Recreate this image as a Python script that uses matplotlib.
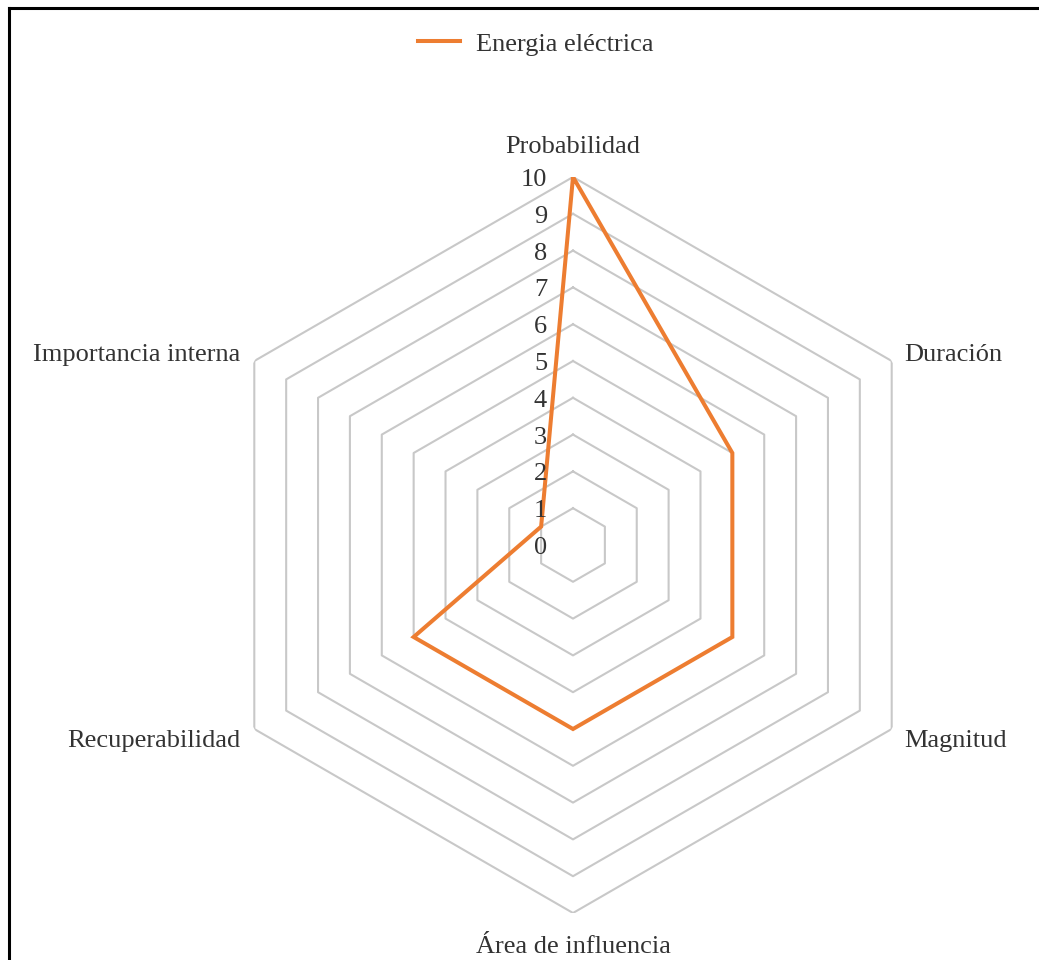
import numpy as np
import matplotlib.pyplot as plt
from matplotlib.lines import Line2D

# chart data
categories = ["Probabilidad", "Duración", "Magnitud",
              "Área de influencia", "Recuperabilidad", "Importancia interna"]
values = [10, 5, 5, 5, 5, 1]
levels = list(range(0, 11))
series_name = "Energia eléctrica"

orange = "#ED7D31"
grid_gray = "#c8c8c8"
text_col = "#333333"

plt.rcParams["font.family"] = ["Liberation Serif", "DejaVu Serif"]
plt.rcParams["font.size"] = 19

W, H = 1039, 960
fig = plt.figure(figsize=(W / 100, H / 100), dpi=100)

# polar axes centred at pixel (573, 545) with radius 368 px
cx, cy, rad = 573, 545, 368
ax = fig.add_axes([(cx - rad) / W, (H - cy - rad) / H, 2 * rad / W, 2 * rad / H],
                  projection="polar")
ax.set_theta_offset(np.pi / 2)
ax.set_theta_direction(-1)
ax.set_ylim(0, levels[-1])
ax.set_xticks([])
ax.set_yticks([])
ax.grid(False)
ax.spines["polar"].set_visible(False)
ax.patch.set_alpha(0)

n = len(categories)
angles = np.linspace(0, 2 * np.pi, n, endpoint=False)
closed = np.append(angles, angles[0])

# hexagonal grid rings
for k in levels[1:]:
    ax.plot(closed, [k] * (n + 1), color=grid_gray, lw=1.5, zorder=1)

# series
ax.plot(closed, values + values[:1], color=orange, lw=2.9, zorder=3,
        label=series_name, solid_joinstyle="miter")

# radial value labels along the top axis
for k in levels:
    ax.annotate(str(k), xy=(0, k), xytext=(-26, -3), textcoords="offset pixels",
                ha="right", va="center", color=text_col, annotation_clip=False)

# category labels
offsets = [(0, 30), (13, 6), (13, -12), (0, -34), (-14, -12), (-14, 6)]
aligns = ["center", "left", "left", "center", "right", "right"]
for a, lab, off, ha in zip(angles, categories, offsets, aligns):
    ax.annotate(lab, xy=(a, levels[-1]), xytext=off, textcoords="offset pixels",
                ha=ha, va="center", color=text_col, annotation_clip=False)

fig.legend(loc="center", bbox_to_anchor=(536 / W, 1 - 44 / H), frameon=False,
           handlelength=1.6, handletextpad=0.6, labelcolor=text_col)

# frame lines (top and left)
fig.add_artist(Line2D([8.5 / W, 1], [1 - 7.5 / H, 1 - 7.5 / H],
                      transform=fig.transFigure, color="black", lw=2.2))
fig.add_artist(Line2D([8.5 / W, 8.5 / W], [0, 1 - 7.5 / H],
                      transform=fig.transFigure, color="black", lw=2.2))

fig.savefig("out.png", dpi=100, facecolor="white")
